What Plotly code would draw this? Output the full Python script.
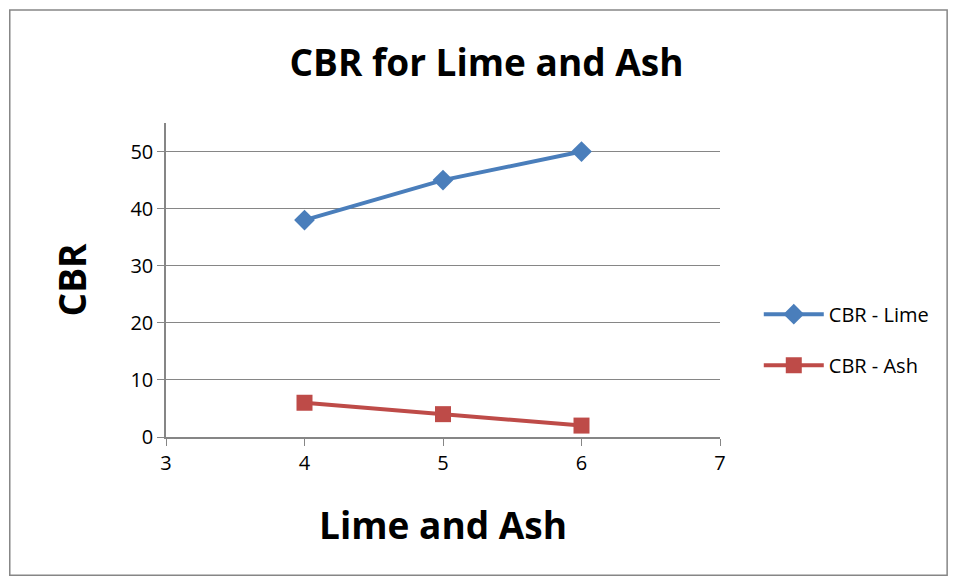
import plotly.graph_objects as go

# data
x_vals = [4, 5, 6]
cbr_lime = [38, 45, 50]
cbr_ash = [6, 4, 2]

FONT = "Open Sans"

fig = go.Figure()
fig.add_trace(go.Scatter(
    x=x_vals, y=cbr_lime, mode="lines+markers", name="CBR - Lime",
    legendgroup="lime",
    line=dict(color="#4A7EBB", width=4),
    marker=dict(symbol="diamond", size=16, color="#4A7EBB"),
))
fig.add_trace(go.Scatter(
    x=x_vals, y=cbr_ash, mode="lines+markers", name="CBR - Ash",
    legendgroup="ash",
    line=dict(color="#BE4B48", width=4),
    marker=dict(symbol="square", size=16, color="#BE4B48"),
))

fig.update_layout(
    width=957, height=581,
    paper_bgcolor="white", plot_bgcolor="white",
    font=dict(family=FONT, size=20, color="black"),
    title=dict(text="<b>CBR for Lime and Ash</b>", x=0.5, xanchor="center",
               y=0.905, yanchor="middle", font=dict(size=37)),
    margin=dict(l=158, r=245, t=115, b=152, autoexpand=False),
    xaxis=dict(range=[3, 7], dtick=1, showgrid=False, showline=True,
               linecolor="#868686", linewidth=1.5, ticks="outside", ticklen=7,
               tickcolor="#868686", zeroline=False, automargin=False,
               title=dict(text="<b>Lime and Ash</b>", font=dict(size=37), standoff=38)),
    yaxis=dict(range=[0, 55], tickvals=[0, 10, 20, 30, 40, 50], showgrid=True,
               gridcolor="#868686", gridwidth=1.2, showline=True,
               linecolor="#868686", linewidth=1.5, ticks="outside", ticklen=7,
               tickcolor="#868686", zeroline=False, automargin=False,
               title=dict(text="<b>CBR</b>", font=dict(size=37), standoff=32)),
    legend=dict(x=1.07, y=0.31, yanchor="middle", xanchor="left",
                font=dict(size=20), tracegroupgap=22, itemwidth=60),
    shapes=[dict(type="rect", xref="paper", yref="paper", x0=-0.282, x1=1.41,
                 y0=-0.44, y1=1.36, line=dict(color="#868686", width=1.5))],
)

fig.write_html("out.html")
